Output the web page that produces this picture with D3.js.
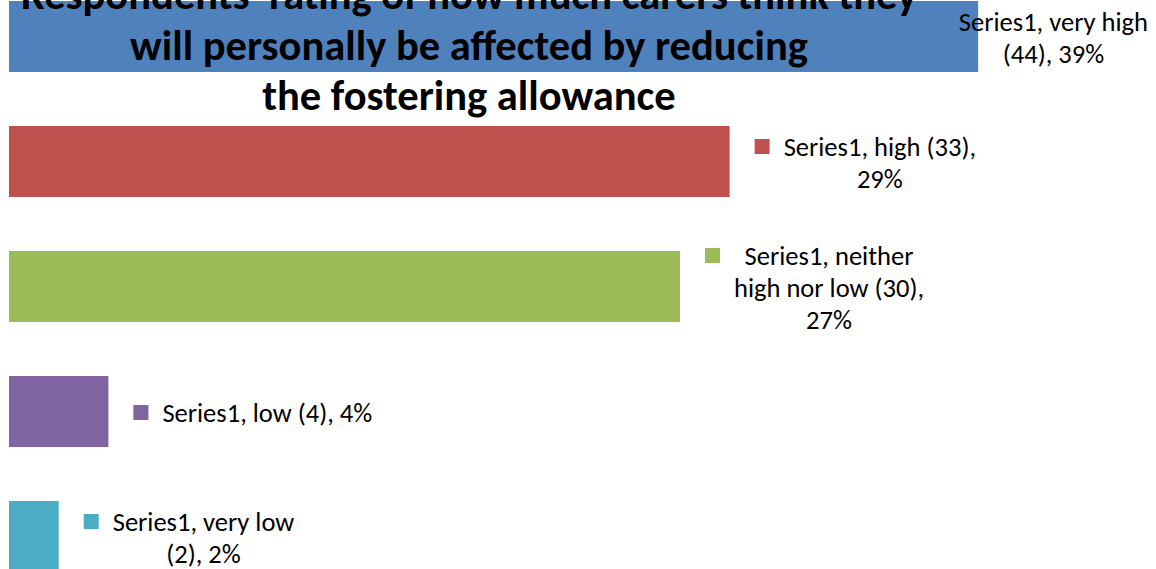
<!DOCTYPE html>
<html>
<head>
<meta charset="utf-8">
<script src="https://cdn.jsdelivr.net/npm/d3@7"></script>
<style>
  html, body { margin: 0; padding: 0; background: #fff; overflow: hidden; }
  svg { display: block; }
</style>
</head>
<body>
<svg id="chart" width="1156" height="569"></svg>
<script>
// ---- data ----
const categories = ["very high", "high", "neither high nor low", "low", "very low"];
const counts = [44, 33, 30, 4, 2];
const percents = [39, 29, 27, 4, 2];
const seriesName = "Series1";
const colors = ["#4F81BD", "#C0504D", "#9BBB59", "#8064A2", "#4BACC6"];
const labelLines = [
  ["Series1, very high", "(44), 39%"],
  ["Series1, high (33),", "29%"],
  ["Series1, neither", "high nor low (30),", "27%"],
  ["Series1, low (4), 4%"],
  ["Series1, very low", "(2), 2%"]
];
const titleLines = [
  "Respondents' rating of how much carers think they",
  "will personally be affected by reducing",
  "the fostering allowance"
];

// ---- layout ----
const W = 1156, H = 569;
const FONT = "Carlito, Calibri, Lato, 'Open Sans', sans-serif";
const svg = d3.select("#chart");

const x = d3.scaleLinear().domain([0, 40]).range([9, 1003]);
const y = d3.scaleBand().domain(categories).range([-26, 599])
  .paddingInner(0.432).paddingOuter(0.216);

// measure helper
function measure(text, size, weight) {
  const t = svg.append("text").attr("font-family", FONT).attr("font-size", size)
    .attr("font-weight", weight).text(text);
  const w = t.node().getComputedTextLength();
  t.remove();
  return w;
}
const labelSize = 24 * 210 / measure("Series1, low (4), 4%", 24, "normal");
const titleSize = 30 * 678 / measure(titleLines[1], 30, "bold");

const rows = categories.map((c, i) => ({
  cat: c, count: counts[i], pct: percents[i], color: colors[i], lines: labelLines[i]
}));

// bars
svg.append("g").selectAll("rect").data(rows).join("rect")
  .attr("x", x(0))
  .attr("y", d => y(d.cat))
  .attr("width", d => x(d.pct) - x(0))
  .attr("height", y.bandwidth())
  .attr("fill", d => d.color);

// data labels
const lineH = 32;
const gL = svg.append("g");
rows.forEach(d => {
  const widths = d.lines.map(l => measure(l, labelSize, "normal"));
  const bw = d3.max(widths);
  const cy = y(d.cat) + y.bandwidth() / 2;
  const n = d.lines.length;
  const baseline0 = cy + 10 - (n - 1) / 2 * lineH;
  let blockLeft = x(d.pct) + 25 + 15 + 14;
  let showKey = true;
  if (blockLeft + bw > W - 6) { blockLeft = W - 8 - bw; showKey = false; }
  if (showKey) {
    gL.append("rect")
      .attr("x", x(d.pct) + 25)
      .attr("y", baseline0 - 16.5)
      .attr("width", 15).attr("height", 15)
      .attr("fill", d.color);
  }
  d.lines.forEach((l, j) => {
    gL.append("text")
      .attr("x", blockLeft + bw / 2)
      .attr("y", baseline0 + j * lineH)
      .attr("text-anchor", "middle")
      .attr("font-family", FONT)
      .attr("font-size", labelSize)
      .attr("fill", "#000")
      .text(l);
  });
});

// title
const gT = svg.append("g");
titleLines.forEach((l, i) => {
  gT.append("text")
    .attr("x", 469)
    .attr("y", 9 + i * 50.5)
    .attr("text-anchor", "middle")
    .attr("font-family", FONT)
    .attr("font-weight", "bold")
    .attr("font-size", titleSize)
    .attr("fill", "#000")
    .text(l);
});
</script>
</body>
</html>
